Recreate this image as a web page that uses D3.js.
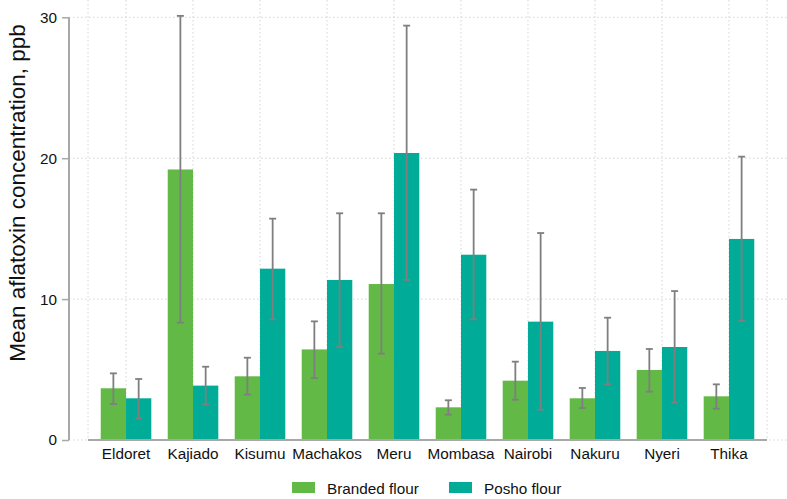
<!DOCTYPE html>
<html><head><meta charset="utf-8">
<script src="https://cdn.jsdelivr.net/npm/d3@7"></script>
<style>body{margin:0;background:#fff;}svg{display:block;font-family:"Liberation Sans",Arial,sans-serif;}</style>
</head><body>
<svg id="c" width="787" height="499"></svg>
<script>
const categories = ["Eldoret","Kajiado","Kisumu","Machakos","Meru","Mombasa","Nairobi","Nakuru","Nyeri","Thika"];
const seriesNames = ["Branded flour","Posho flour"];
const brandedMean = [3.67,19.2,4.52,6.43,11.07,2.32,4.21,2.96,4.97,3.10];
const brandedLow  = [2.55,8.33,3.22,4.40,6.13,1.80,2.86,2.27,3.43,2.22];
const brandedHigh = [4.73,30.1,5.84,8.42,16.09,2.82,5.56,3.69,6.46,3.95];
const poshoMean = [2.96,3.86,12.16,11.36,20.37,13.15,8.40,6.32,6.60,14.27];
const poshoLow  = [1.54,2.53,8.56,6.60,11.36,8.56,2.15,3.95,2.65,8.45];
const poshoHigh = [4.33,5.20,15.71,16.09,29.41,17.77,14.69,8.68,10.57,20.11];
const yTicks = [0,10,20,30];
const colors = ["#63b946","#00ac97"];

const svg = d3.select("#c");
const x0 = d3.scaleBand().domain(categories).range([88,767]).paddingInner(0.245).paddingOuter(0.19);
const x1 = d3.scaleBand().domain(seriesNames).range([0,x0.bandwidth()]);
const y = d3.scaleLinear().domain([0,30]).range([440,17.3]);

const grid = svg.append("g");
grid.selectAll("line.h").data(yTicks).join("line")
  .attr("x1",69).attr("x2",787).attr("y1",d=>y(d)).attr("y2",d=>y(d))
  .attr("stroke","#d4d4d4").attr("stroke-width",1).attr("stroke-dasharray","1.5,2.5");
const vx = [88, ...categories.map(c=>x0(c)+x0.bandwidth()/2), 767];
grid.selectAll("line.v").data(vx).join("line")
  .attr("x1",d=>d).attr("x2",d=>d).attr("y1",0).attr("y2",440)
  .attr("stroke","#d4d4d4").attr("stroke-width",1).attr("stroke-dasharray","1.5,2.5");

const rows = categories.map((c,i)=>[
  {cat:c, s:seriesNames[0], v:brandedMean[i], lo:brandedLow[i], hi:brandedHigh[i], k:0},
  {cat:c, s:seriesNames[1], v:poshoMean[i], lo:poshoLow[i], hi:poshoHigh[i], k:1}
]).flat();

svg.append("g").selectAll("rect").data(rows).join("rect")
  .attr("x",d=>x0(d.cat)+x1(d.s)).attr("width",x1.bandwidth())
  .attr("y",d=>y(d.v)).attr("height",d=>y(0)-y(d.v))
  .attr("fill",d=>colors[d.k]);

const eb = svg.append("g").attr("stroke","#7f7f7f").attr("stroke-width",1.8);
rows.forEach(d=>{
  const cx = x0(d.cat)+x1(d.s)+x1.bandwidth()/2;
  eb.append("line").attr("x1",cx).attr("x2",cx).attr("y1",y(d.lo)).attr("y2",y(d.hi));
  eb.append("line").attr("x1",cx-3.5).attr("x2",cx+3.5).attr("y1",y(d.lo)).attr("y2",y(d.lo));
  eb.append("line").attr("x1",cx-3.5).attr("x2",cx+3.5).attr("y1",y(d.hi)).attr("y2",y(d.hi));
});

svg.append("line").attr("x1",88).attr("x2",767).attr("y1",440).attr("y2",440)
  .attr("stroke","#a8a8a8").attr("stroke-width",2);
svg.append("g").selectAll("text").data(categories).join("text")
  .attr("x",d=>x0(d)+x0.bandwidth()/2).attr("y",459)
  .attr("text-anchor","middle").attr("font-size",15.3).attr("fill","#111")
  .text(d=>d);

const yAxis = d3.axisLeft(y).tickValues(yTicks).tickSize(7).tickPadding(5).tickFormat(d3.format("d"));
const ya = svg.append("g").attr("transform","translate(69,0)").call(yAxis);
ya.select(".domain").attr("stroke","#a8a8a8").attr("stroke-width",2).attr("d","M0,"+y(30)+"V"+y(0));
ya.selectAll(".tick line").attr("stroke","#a8a8a8").attr("stroke-width",1.5);
ya.selectAll(".tick text").attr("font-size",15.3).attr("fill","#111").attr("font-family","Liberation Sans, Arial, sans-serif");

svg.append("text").attr("transform","translate(25,193) rotate(-90)")
  .attr("text-anchor","middle").attr("font-size",22.5).attr("fill","#111")
  .text("Mean aflatoxin concentration, ppb");

const legX = [292,449];
const lg = svg.append("g");
seriesNames.forEach((s,i)=>{
  lg.append("rect").attr("x",legX[i]).attr("y",482).attr("width",23).attr("height",11).attr("fill",colors[i]);
  lg.append("text").attr("x",legX[i]+35).attr("y",494).attr("font-size",15.3).attr("fill","#111").text(s);
});
</script>
</body></html>
